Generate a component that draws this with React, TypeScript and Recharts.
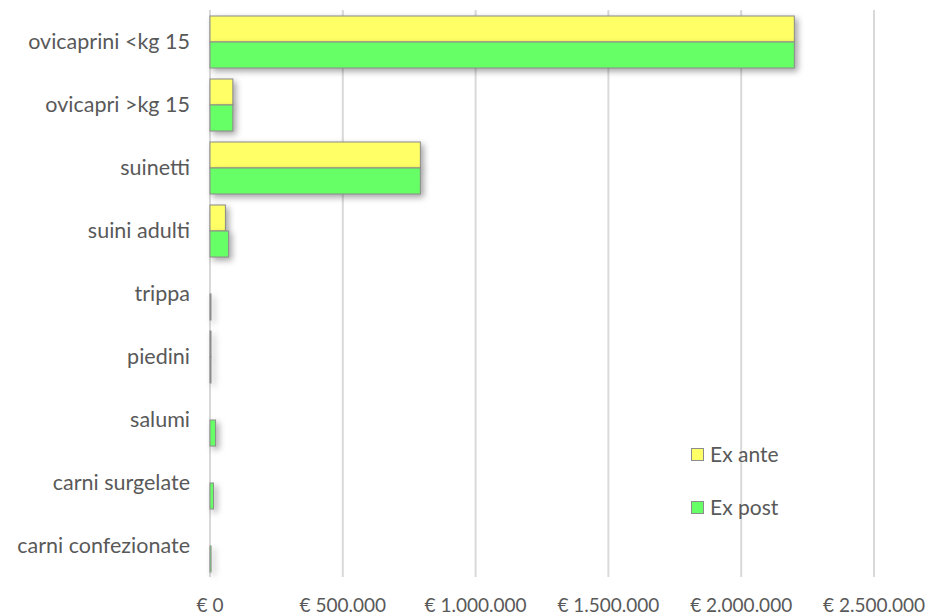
import React from 'react';
import { BarChart, Bar, XAxis, YAxis, CartesianGrid } from 'recharts';

const categories = [
  'ovicaprini <kg 15',
  'ovicapri >kg 15',
  'suinetti',
  'suini adulti',
  'trippa',
  'piedini',
  'salumi',
  'carni surgelate',
  'carni confezionate',
];
const exAnte = [2200000, 86000, 792000, 58000, 0, 1500, 0, 0, 0];
const exPost = [2200000, 86000, 792000, 70000, 3000, 1500, 21000, 13000, 4000];
const xTicks = [0, 500000, 1000000, 1500000, 2000000, 2500000];

const FONT = 'Lato, "Open Sans", sans-serif';
const TEXT = '#595959';
const YELLOW = '#FFFF66';
const GREEN = '#66FF66';

const rows = categories.map((name, i) => ({ name, exAnte: exAnte[i], exPost: exPost[i] }));

function euro(v: number) {
  const s = String(Math.round(v)).replace(/\B(?=(\d{3})+(?!\d))/g, '.');
  return `€ ${s}`;
}

// rettangolo con ombra, come nel grafico Excel
function ShadowBar(props: any) {
  const { x, y, width, height, fill } = props;
  if (!width || width <= 0) return null;
  return (
    <rect
      x={x}
      y={y}
      width={Math.max(width, 1)}
      height={height}
      fill={fill}
      stroke="#8c8c8c"
      strokeWidth={1}
      style={{ filter: 'drop-shadow(3px 3px 3px rgba(0,0,0,0.35))' }}
    />
  );
}

function LegendItem({ color, label, top }: { color: string; label: string; top: number }) {
  return (
    <div style={{ position: 'absolute', left: 691, top, display: 'flex', alignItems: 'center' }}>
      <div style={{ width: 11, height: 11, background: color, border: '1px solid #8c8c8c', marginRight: 6 }} />
      <span style={{ fontFamily: FONT, fontSize: 21, color: TEXT, lineHeight: '24px' }}>{label}</span>
    </div>
  );
}

export default function App() {
  return (
    <div style={{ position: 'absolute', left: 0, top: 0, width: 936, height: 616, background: '#fff' }}>
      <BarChart
        width={936}
        height={616}
        data={rows}
        layout="vertical"
        margin={{ top: 10, right: 62, bottom: 0, left: 0 }}
        barCategoryGap={6}
        barGap={0}
      >
        <CartesianGrid horizontal={false} stroke="#d9d9d9" strokeWidth={2} />
        <XAxis
          type="number"
          domain={[0, 2500000]}
          ticks={xTicks}
          tickFormatter={euro}
          axisLine={false}
          tickLine={false}
          height={39}
          tickMargin={16}
          interval={0}
          tick={{ fill: TEXT, fontSize: 19, fontFamily: FONT }}
        />
        <YAxis
          type="category"
          dataKey="name"
          width={210}
          axisLine={false}
          tickLine={false}
          tickMargin={14}
          interval={0}
          tick={{ fill: TEXT, fontSize: 21.5, fontFamily: FONT }}
        />
        <Bar dataKey="exAnte" fill={YELLOW} shape={ShadowBar} isAnimationActive={false} />
        <Bar dataKey="exPost" fill={GREEN} shape={ShadowBar} isAnimationActive={false} />
      </BarChart>
      <LegendItem color={YELLOW} label="Ex ante" top={442} />
      <LegendItem color={GREEN} label="Ex post" top={495} />
    </div>
  );
}
